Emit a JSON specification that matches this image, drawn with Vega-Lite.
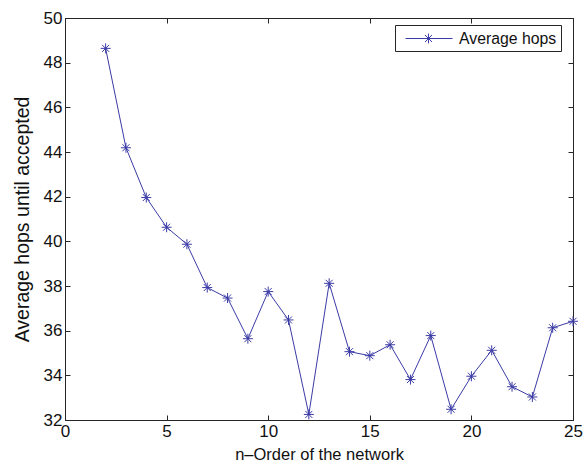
{
  "$schema": "https://vega.github.io/schema/vega-lite/v6.json",
  "width": 508,
  "height": 402,
  "autosize": "none",
  "padding": {"left": 65, "top": 18, "right": 11, "bottom": 47},
  "background": "white",
  "config": {
    "font": "Liberation Sans",
    "view": {"stroke": "#262626", "strokeWidth": 1},
    "axis": {
      "grid": false,
      "domainColor": "#262626",
      "tickColor": "#262626",
      "tickSize": -5,
      "labelFontSize": 17,
      "labelFlush": false,
      "labelColor": "#111",
      "titleFontSize": 16.5,
      "titleFontWeight": "normal",
      "titleColor": "#111"
    }
  },
  "data": {
    "values": [
      {"n": 2, "hops": 48.64},
      {"n": 3, "hops": 44.19},
      {"n": 4, "hops": 41.96},
      {"n": 5, "hops": 40.63},
      {"n": 6, "hops": 39.87},
      {"n": 7, "hops": 37.93},
      {"n": 8, "hops": 37.46},
      {"n": 9, "hops": 35.64},
      {"n": 10, "hops": 37.75},
      {"n": 11, "hops": 36.48},
      {"n": 12, "hops": 32.25},
      {"n": 13, "hops": 38.12},
      {"n": 14, "hops": 35.06},
      {"n": 15, "hops": 34.88},
      {"n": 16, "hops": 35.37},
      {"n": 17, "hops": 33.81},
      {"n": 18, "hops": 35.78},
      {"n": 19, "hops": 32.48},
      {"n": 20, "hops": 33.96},
      {"n": 21, "hops": 35.12},
      {"n": 22, "hops": 33.49},
      {"n": 23, "hops": 33.03},
      {"n": 24, "hops": 36.13},
      {"n": 25, "hops": 36.42}
    ]
  },
  "layer": [
    {
      "mark": {
        "type": "line",
        "strokeWidth": 1,
        "point": {
          "shape": "M-1,0H1M0,-1V1M-0.7,-0.7L0.7,0.7M-0.7,0.7L0.7,-0.7",
          "size": 100,
          "filled": false,
          "strokeWidth": 1
        }
      },
      "encoding": {
        "x": {
          "field": "n",
          "type": "quantitative",
          "scale": {"domain": [0, 25], "nice": false},
          "axis": {"values": [0, 5, 10, 15, 20, 25], "title": "n–Order of the network", "labelPadding": 8, "titlePadding": 7}
        },
        "y": {
          "field": "hops",
          "type": "quantitative",
          "scale": {"domain": [32, 50], "nice": false, "zero": false},
          "axis": {"values": [32, 34, 36, 38, 40, 42, 44, 46, 48, 50], "title": "Average hops until accepted", "titleFontSize": 19.5, "labelPadding": 8, "titlePadding": 11}
        },
        "color": {
          "datum": "Average hops",
          "type": "nominal",
          "scale": {"range": ["#3b3ba6"]},
          "legend": {
            "title": null,
            "orient": "none",
            "legendX": 330,
            "legendY": 7,
            "strokeColor": "#262626",
            "fillColor": "white",
            "padding": 4,
            "labelFontSize": 15.8,
            "labelColor": "#111",
            "symbolType": "M-0.33,0H4.89M1.67,0H2.77M2.22,-0.55V0.55M1.83,-0.39L2.61,0.39M1.83,0.39L2.61,-0.39",
            "symbolSize": 324,
            "symbolStrokeWidth": 1,
            "symbolFillColor": "transparent",
            "symbolStrokeColor": "#3b3ba6",
            "labelOffset": 41
          }
        }
      }
    },
    {
      "mark": {"type": "point", "opacity": 0},
      "encoding": {
        "x": {
          "field": "n",
          "type": "quantitative",
          "scale": {"domain": [0, 25], "nice": false},
          "axis": {"orient": "top", "values": [0, 5, 10, 15, 20, 25], "labels": false, "title": null}
        },
        "y": {
          "field": "hops",
          "type": "quantitative",
          "scale": {"domain": [32, 50], "nice": false, "zero": false},
          "axis": {"orient": "right", "values": [32, 34, 36, 38, 40, 42, 44, 46, 48, 50], "labels": false, "title": null}
        }
      }
    }
  ],
  "resolve": {"axis": {"x": "independent", "y": "independent"}}
}
